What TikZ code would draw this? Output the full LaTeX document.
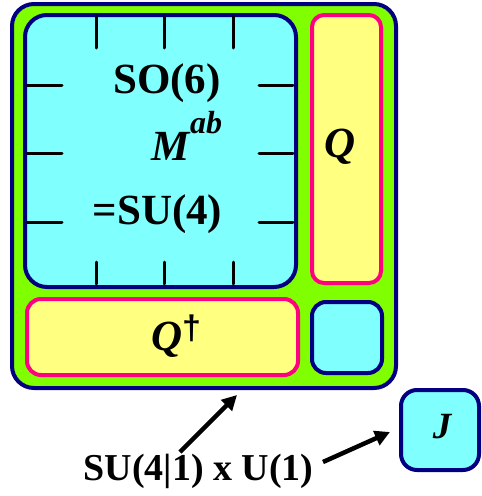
\documentclass[tikz,border=0pt]{standalone}
\usepackage{fontspec}
\setmainfont{Liberation Serif}
\newfontfamily\daggerfont{Liberation Sans}
\usetikzlibrary{arrows.meta}
\definecolor{bnavy}{RGB}{0,0,128}
\definecolor{glime}{RGB}{128,255,0}
\definecolor{gcyan}{RGB}{128,255,255}
\definecolor{gyellow}{RGB}{255,255,128}
\definecolor{bpink}{RGB}{255,0,128}
\begin{document}
\begin{tikzpicture}[x=1pt,y=-1pt,line join=round,line cap=round,
 box/.style={line width=4pt,inner sep=0pt,rounded corners=#1},
 gen/.style={box=#1,draw=bnavy,fill=gcyan},
 sup/.style={box=#1,draw=bpink,fill=gyellow},
 txt/.style={font=\fontsize{43}{43}\selectfont\bfseries,anchor=base,inner sep=0pt},
 tick/.style={line width=3pt},
 arr/.style={line width=4.5pt,line cap=butt,-{Triangle[length=15pt,width=15pt]}}]
 \useasboundingbox (0,0) rectangle (482,496);
 \node[box=22pt,draw=bnavy,fill=glime,minimum width=384pt,minimum height=384pt] (super) at (204,196) {};
 \node[gen=22pt,minimum width=271pt,minimum height=272pt] (bos) at (160.5,151) {};
 \node[sup=12pt,minimum width=69pt,minimum height=268pt] (q) at (346.5,149) {};
 \node[sup=14pt,minimum width=271pt,minimum height=76pt] (qd) at (162.5,337) {};
 \node[gen=14pt,minimum width=70pt,minimum height=71pt] (u1) at (347,337.5) {};
 \node[gen=16pt,minimum width=78pt,minimum height=80pt] (J) at (440,430) {};
 \foreach \p in {96,164,233}{
  \draw[tick] (\p,16) -- (\p,48);
  \draw[tick] (\p,262) -- (\p,284);}
 \foreach \p in {85,153,222}{
  \draw[tick] (27,\p) -- (62,\p);
  \draw[tick] (259,\p) -- (293,\p);}
 \node[txt] (so) at (167,93) {SO(6)};
 \node[txt] (m) at (187,160) {\itshape M\raisebox{27pt}{\fontsize{32}{32}\selectfont ab}};
 \node[txt] (su) at (157.5,224) {=SU(4)};
 \node[txt] (ql) at (340,157) {\itshape Q};
 \node[txt] (qdl) at (176,350) {\itshape Q\raisebox{11pt}{\daggerfont\upshape\fontsize{34}{34}\selectfont †}};
 \node[txt,font=\fontsize{37}{37}\selectfont\bfseries\itshape] (jl) at (442,438) {J};
 \node[txt,font=\fontsize{38}{38}\selectfont\bfseries] (group) at (198.5,480) {SU(4|1) x U(1)};
 \coordinate (s1) at (180,452); \coordinate (t1) at (237,395);
 \coordinate (s2) at (323,462); \coordinate (t2) at (390,432);
 \draw[arr] (s1) -- (t1);
 \draw[arr] (s2) -- (t2);
\end{tikzpicture}
\end{document}
